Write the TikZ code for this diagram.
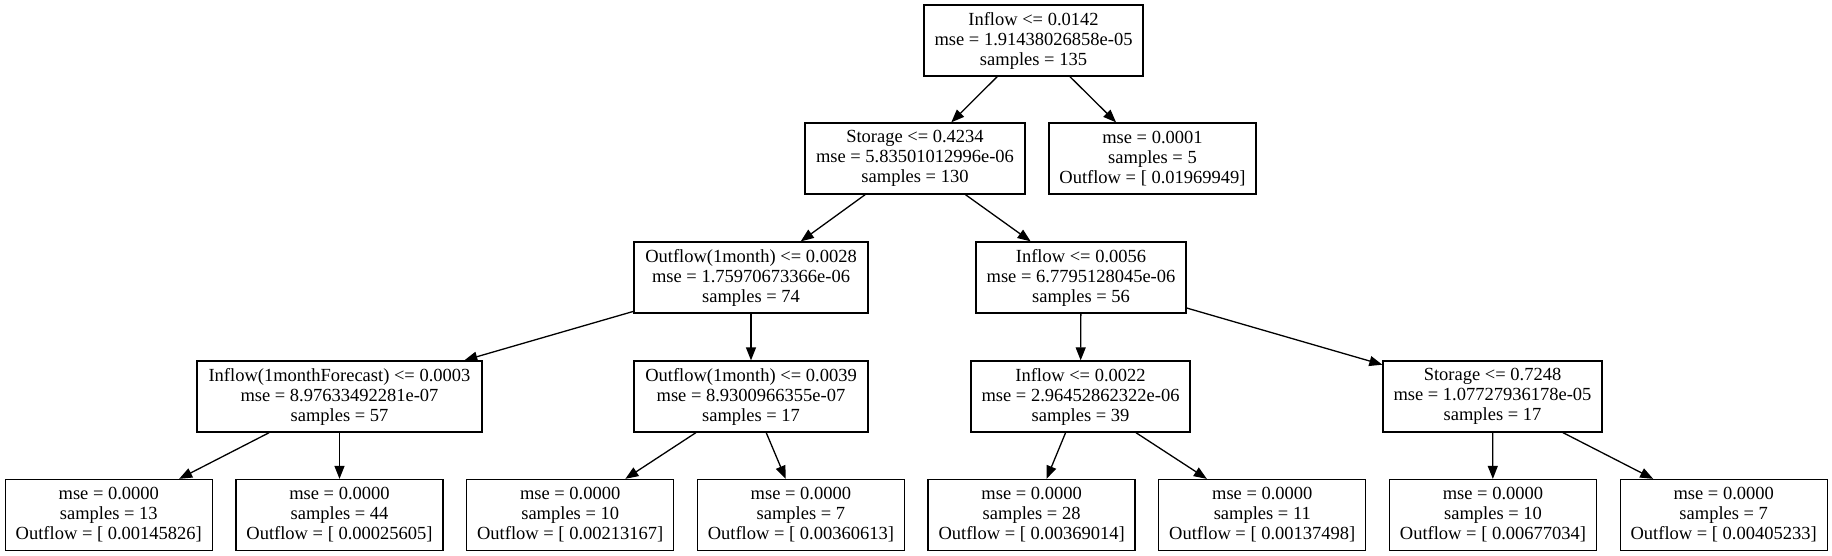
\documentclass[tikz,border=0pt]{standalone}
\usepackage{fontspec}
\setmainfont{Liberation Serif}
\usetikzlibrary{positioning,arrows.meta}

\begin{document}
\begin{tikzpicture}[->, >={Triangle[length=13pt,width=10pt]}, x=1pt, y=1pt, node distance=230.7pt, line width=1.3pt, tree_node/.style={rectangle,draw,font=\fontsize{18.5}{20}\selectfont, minimum height=71pt, inner sep=0pt, align=center}, leaf_node/.style={tree_node, minimum width=207pt}]

  \useasboundingbox (0,0) rectangle (1832,-556);

  \node[tree_node, minimum width=219pt] (1) at (1033.5,-40.5) {Inflow <= 0.0142\\mse = 1.91438026858e-05\\samples = 135};
  \node[tree_node, minimum width=220pt] (2) at (915,-158.5) {Storage <= 0.4234\\mse = 5.83501012996e-06\\samples = 130};
  \node[leaf_node] (3) at (1152.5,-158.5) {mse = 0.0001\\samples = 5\\Outflow = [ 0.01969949]};
  \node[tree_node, minimum width=234pt] (4) at (751,-277.5) {Outflow(1month) <= 0.0028\\mse = 1.75970673366e-06\\samples = 74};
  \node[tree_node, minimum width=210pt] (5) at (1081,-277.5) {Inflow <= 0.0056\\mse = 6.7795128045e-06\\samples = 56};
  \node[tree_node, minimum width=285pt] (6) at (339.5,-396.5) {Inflow(1monthForecast) <= 0.0003\\mse = 8.97633492281e-07\\samples = 57};
  \node[tree_node, minimum width=234pt] (7) [below of=4, node distance=119pt] {Outflow(1month) <= 0.0039\\mse = 8.9300966355e-07\\samples = 17};
  \node[tree_node, minimum width=219pt] (8) at (1080.5,-396.5) {Inflow <= 0.0022\\mse = 2.96452862322e-06\\samples = 39};
  \node[tree_node, minimum width=219pt] (9) at (1492.5,-396.5) {Storage <= 0.7248\\mse = 1.07727936178e-05\\samples = 17};

  % leaves
  \node[leaf_node] (11) [below of=6, node distance=118.5pt] {mse = 0.0000\\samples = 44\\Outflow = [ 0.00025605]};
  \node[leaf_node] (10) [left of=11] {mse = 0.0000\\samples = 13\\Outflow = [ 0.00145826]};
  \node[leaf_node] (12) [right of=11] {mse = 0.0000\\samples = 10\\Outflow = [ 0.00213167]};
  \node[leaf_node] (13) [right of=12] {mse = 0.0000\\samples = 7\\Outflow = [ 0.00360613]};
  \node[leaf_node] (14) [right of=13] {mse = 0.0000\\samples = 28\\Outflow = [ 0.00369014]};
  \node[leaf_node] (15) [right of=14] {mse = 0.0000\\samples = 11\\Outflow = [ 0.00137498]};
  \node[leaf_node] (16) [right of=15] {mse = 0.0000\\samples = 10\\Outflow = [ 0.00677034]};
  \node[leaf_node] (17) [right of=16] {mse = 0.0000\\samples = 7\\Outflow = [ 0.00405233]};

  \path
    (1) edge (2)
        edge (3)
    (2) edge (4)
        edge (5)
    (4) edge (6)
        edge (7)
    (5) edge (8)
        edge (9)
    (6) edge (10)
        edge (11)
    (7) edge (12)
        edge (13)
    (8) edge (14)
        edge (15)
    (9) edge (16)
        edge (17);
\end{tikzpicture}
\end{document}
